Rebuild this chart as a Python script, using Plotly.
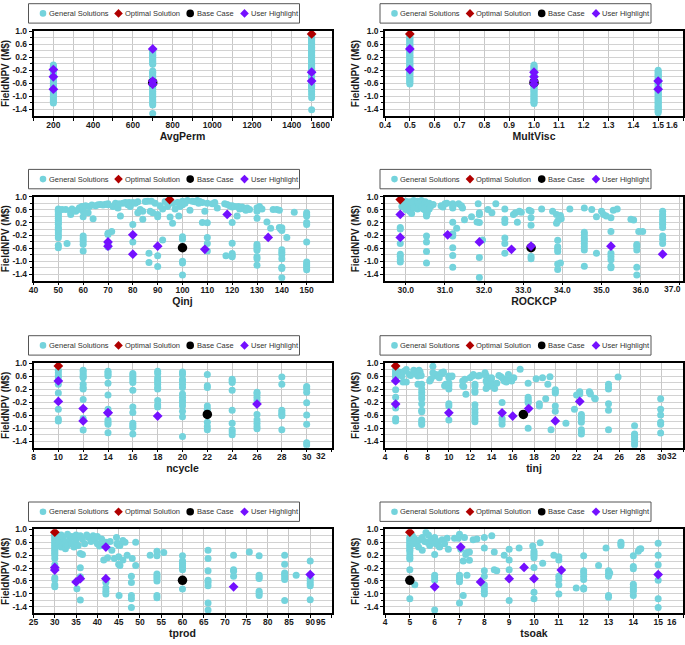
import plotly.graph_objects as go

# ---------------------------------------------------------------- data
HL_Y = [0.45, -0.18, -0.26, -0.40, -0.53, -0.53, -0.63, -0.78]
OPT_Y = 0.91
BASE_Y = -0.58

avgperm_cols = {
    200: [-0.04, -0.08, -0.12, -0.2, -0.24, -0.3, -0.34, -0.38, -0.46, -0.5, -0.55, -0.6, -0.66, -0.7,
          -0.74, -0.82, -0.86, -0.9, -0.95, -1.0, -1.04, -1.1, -1.15, -1.2],
    700: [0.42, 0.38, 0.34, 0.3, 0.26, 0.22, 0.18, 0.14, 0.1, 0.06, 0.02, -0.02, -0.22, -0.26, -0.3, -0.36,
          -0.42, -0.46, -0.6, -0.68, -0.72, -0.78, -0.84, -0.9, -0.94, -1.0, -1.04, -1.1, -1.16, -1.22,
          -1.26, -1.52],
    1500: [0.86, 0.82, 0.78, 0.74, 0.7, 0.66, 0.62, 0.58, 0.54, 0.5, 0.46, 0.42, 0.38, 0.34, 0.3, 0.26,
           0.22, 0.18, 0.14, 0.1, 0.06, 0.02, -0.02, -0.06, -0.1, -0.14, -0.18, -0.22, -0.3, -0.34, -0.38,
           -0.42, -0.46, -0.58, -0.62, -0.66, -0.7, -0.74, -0.8, -0.86, -0.94, -1.04, -1.41],
}
multvisc_cols = {
    0.5: [0.86, 0.82, 0.78, 0.74, 0.7, 0.66, 0.62, 0.58, 0.54, 0.5, 0.42, 0.38, 0.34, 0.3, 0.26, 0.22,
          0.18, 0.14, 0.1, 0.06, 0.02, -0.02, -0.06, -0.1, -0.14, -0.22, -0.26, -0.3, -0.34, -0.38, -0.42,
          -0.46, -0.5, -0.54, -0.58, -0.62],
    1.0: [-0.04, -0.08, -0.12, -0.16, -0.2, -0.3, -0.34, -0.38, -0.46, -0.5, -0.58, -0.66, -0.7, -0.74,
          -0.78, -0.82, -0.86, -0.9, -0.94, -0.98, -1.02, -1.06, -1.1, -1.14, -1.18, -1.22],
    1.5: [-0.2, -0.24, -0.28, -0.32, -0.36, -0.4, -0.44, -0.48, -0.56, -0.6, -0.64, -0.68, -0.72, -0.82,
          -0.86, -0.9, -0.94, -0.98, -1.02, -1.06, -1.1, -1.14, -1.18, -1.22, -1.26, -1.3, -1.34, -1.38,
          -1.42, -1.46, -1.5],
}
ncycle_cols = {
    10: [0.78, 0.7, 0.62, 0.55, 0.35, 0.08, -0.42, -0.72, -0.78],
    12: [0.78, 0.72, 0.65, 0.58, 0.55, 0.35, 0.25, 0.2, -0.12, -0.7, -1.06],
    14: [0.75, 0.7, 0.65, 0.6, 0.38, 0.02, -0.42, -0.75, -0.82, -0.88, -1.14],
    16: [0.68, 0.62, 0.55, 0.48, 0.4, 0.16, -0.35, -0.52, -0.85, -0.92, -0.98, -1.18],
    18: [0.75, 0.68, 0.55, 0.48, 0.42, 0.35, 0.25, 0.2, -0.15, -0.28, -0.35],
    20: [0.72, 0.65, 0.5, 0.45, 0.35, 0.25, 0.05, -0.05, -0.15, -0.22, -0.32, -0.48, -0.65, -1.26],
    22: [0.65, 0.3, 0.25, -0.32, -0.42, -0.82, -0.95, -1.05],
    24: [0.5, 0.45, 0.4, 0.16, -0.45, -0.85, -1.05, -1.12, -1.2],
    26: [0.1, 0.05, -0.05, -0.15, -0.58, -0.75, -0.85, -0.95, -1.02],
    28: [0.57, 0.35, -0.45, -0.52, -0.58, -0.62, -1.05],
    30: [0.28, 0.22, 0.1, -0.22, -0.6, -0.88, -1.45, -1.52],
}
qinj_pts = [
    (50, 0.62), (50, 0.58), (50, 0.55), (50, 0.5), (50, 0.45), (50, 0.4), (50, 0.33), (50, 0.27), (50, 0.2),
    (50, 0.15), (50, 0.05), (50, 0.0), (50, -0.05), (50, -0.12), (50, -0.2), (50, -0.27), (50, -0.5), (50, -0.58),
    (51.5, 0.6), (53, 0.6), (53.5, -0.45), (55, 0.45), (55, 0.52), (55.5, 0.62), (57, 0.55), (58, 0.6),
    (58.5, 0.66), (59.5, 0.7), (60, 0.38), (60, 0.55), (60, 0.64), (60, 0.7), (60, -0.22), (60, -0.3),
    (60, -0.38), (60, -0.47), (60, -0.68), (61, 0.72), (62, 0.5), (62.5, 0.7), (63.5, 0.74), (64, 0.32),
    (65, 0.72), (66, 0.75), (67, 0.76), (68, 0.74), (69, 0.77), (70, 0.78), (70, 0.75), (70, -0.13),
    (70, -0.17), (70, -0.45), (70, -0.5), (70, -0.56), (71.5, -0.08), (72, 0.7), (73, 0.8), (74, 0.65),
    (74.5, 0.78), (75, 0.4), (76, 0.8), (77, 0.82), (78, 0.75), (78.5, 0.82), (79, 0.7), (80, 0.82),
    (80, 0.14), (80, -0.4), (81, 0.8), (82, 0.5), (82, 0.84), (83, 0.6), (84, 0.3), (84, 0.55), (85, 0.85),
    (86, 0.86), (86.5, -0.75), (86.5, -1.04), (87, 0.55), (87.5, 0.86), (88, 0.5), (89, 0.8), (90, 0.45),
    (90, 0.38), (90, -0.83), (90, -1.16), (91, 0.72), (92, -0.34), (92, 0.62), (93, 0.85), (94, 0.7),
    (95, 0.37), (96, 0.8), (96, 0.18), (97, 0.62), (98, 0.82), (98.5, 0.4), (99, 0.7), (100, 0.86),
    (100, 0.75), (100, -0.24), (100, -0.32), (100, -1.0), (100, -1.05), (100, -1.42), (101, 0.8),
    (102, 0.88), (103, 0.58), (104, 0.86), (105, 0.84), (106, 0.88), (106.5, 0.8), (107, 0.85), (108, 0.82),
    (108, 0.2), (109, 0.55), (110, 0.8), (110, 0.19), (110, -0.26), (110, -0.45), (110, -0.68), (112, 0.78),
    (113, 0.82), (114, 0.65), (117, 0.78), (117.5, -0.83), (118, 0.76), (119, 0.72), (120, 0.72),
    (120, 0.68), (120, 0.2), (120, -0.44), (120, -0.76), (120, -0.82), (120, -0.86), (121, 0.7), (122, 0.4),
    (122.5, 0.7), (123, 0.62), (124, 0.68), (125, 0.62), (125.5, 0.58), (126, 0.65), (127, 0.6), (130, 0.65),
    (130, 0.55), (130, 0.33), (130, -0.48), (130, -0.55), (130, -0.6), (130, -0.66), (130, -0.86),
    (130, -0.92), (130, -1.12), (131, 0.7), (132, 0.62), (134, 0.22), (135.5, 0.02), (136.5, 0.6), (138, 0.6),
    (139, 0.58), (139, 0.05), (139.5, 0.0), (140, 0.04), (140, -0.05), (140, -0.64), (140, -0.72),
    (140, -0.8), (140, -0.92), (140, -1.18), (140, -1.22), (140, -1.51), (142, -0.26), (145, 0.52),
    (150, 0.5), (150, 0.44), (150, 0.4), (150, 0.2), (150, 0.14), (150, -0.4), (150, -1.02), (150, -1.08),
    (150, -1.14), (150, -1.2), (150, -1.26),
]
rockcp_pts = [
    (29.95, 0.8), (30.0, 0.86), (30.05, 0.7), (30.1, 0.84), (30.15, 0.78), (30.2, 0.88), (30.25, 0.72),
    (30.3, 0.86), (30.35, 0.8), (30.4, 0.88), (30.45, 0.74), (30.5, 0.84), (30.55, 0.78), (30.6, 0.8),
    (30.65, 0.72), (30.7, 0.76), (30.0, 0.6), (30.1, 0.55), (30.2, 0.65), (30.3, 0.62), (30.4, 0.68),
    (30.5, 0.58), (30.55, 0.5), (30.6, 0.62), (29.9, 0.7), (30.15, 0.48), (30.45, 0.62),
    (29.86, 0.05), (29.86, 0.0), (29.86, -0.45), (29.86, -0.78), (29.86, -0.85), (29.86, -0.95), (29.86, -1.02),
    (30.53, 0.45), (30.53, 0.4), (30.53, -0.22), (30.53, -0.4), (30.53, -0.7), (30.53, -1.05),
    (30.9, 0.72), (30.95, 0.68), (31.0, 0.78), (31.05, 0.8),
    (31.2, 0.78), (31.2, 0.7), (31.2, 0.65), (31.2, 0.21), (31.2, -0.15), (31.2, -0.22), (31.2, -0.58),
    (31.2, -0.82), (31.2, -1.18),
    (31.3, 0.02), (31.35, 0.78), (31.42, 0.72), (31.45, 0.65), (31.5, 0.29), (31.68, 0.38), (31.82, 0.22),
    (31.85, 0.78), (31.88, 0.45), (31.88, 0.5), (31.88, 0.2), (31.88, -0.88), (31.88, -1.5),
    (31.96, -0.34), (32.1, 0.6), (32.2, 0.5), (32.3, 0.78),
    (32.53, 0.62), (32.53, 0.3), (32.53, 0.2), (32.53, -0.28), (32.53, -0.45), (32.53, -0.75),
    (32.75, 0.45), (32.8, 0.5), (32.85, 0.21), (32.9, 0.55), (32.95, 0.52),
    (33.15, 0.58), (33.2, 0.55), (33.2, 0.35), (33.2, 0.12), (33.2, -0.85), (33.2, -0.92),
    (33.47, 0.62), (33.75, 0.55), (33.85, 0.45), (33.88, 0.25), (33.85, 0.18),
    (33.88, -0.35), (33.88, -0.55), (33.88, -0.62), (33.88, -0.7), (33.88, -1.08), (33.88, -1.25),
    (33.95, 0.42), (33.97, 0.32), (33.95, -1.05), (34.19, 0.62),
    (34.56, 0.65), (34.56, -0.1), (34.56, -0.18), (34.56, -0.28), (34.56, -0.35), (34.56, -0.45),
    (34.56, -0.55), (34.56, -0.65), (34.56, -1.15),
    (34.75, 0.6), (34.87, 0.38), (34.87, -0.75), (35.0, 0.55), (35.05, 0.45), (35.12, 0.4),
    (35.24, 0.35), (35.24, -0.08), (35.24, -0.75), (35.24, -0.85), (35.24, -0.95), (35.24, -1.15), (35.24, -1.2),
    (35.3, 0.58), (35.4, 0.62), (35.75, 0.3), (35.82, 0.28),
    (35.9, -0.48), (35.9, -0.55), (35.9, -0.65), (35.9, -1.18), (35.9, -1.42), (35.95, -0.08), (36.05, -0.08),
    (36.56, 0.55), (36.56, 0.45), (36.56, 0.38), (36.56, 0.3), (36.56, 0.22), (36.56, 0.15), (36.56, 0.05),
    (36.56, -0.22), (36.56, -0.32), (36.56, -0.45),
]
tinj_pts = [
    (5, 0.8), (5, 0.75), (5, 0.7), (5, 0.65), (5, 0.6), (5, 0.55), (5, 0.18), (5, -0.05), (5, -0.38), (5, -0.7),
    (5, -0.78), (5.3, 0.72), (5.5, 0.65), (5.6, 0.6), (5.7, 0.42), (5.8, 0.75), (6.0, 0.8), (6.0, 0.42),
    (6.3, 0.65), (6.4, 0.62), (6.7, 0.78), (6.9, 0.72), (7.0, 0.65), (7.1, 0.6), (7.2, 0.78), (7.1, 0.35),
    (7.3, 0.72), (7.4, 0.62),
    (7.45, 0.35), (7.45, 0.2), (7.45, 0.1), (7.45, 0.0), (7.45, -0.1), (7.45, -0.25), (7.45, -0.45),
    (7.45, -0.5), (7.45, -0.75), (7.45, -0.82), (7.45, -0.89),
    (8.2, 0.45), (8.3, 0.5), (8.5, 0.9), (8.5, 0.7), (8.6, 0.6), (8.8, 0.65), (9.0, 0.6), (9.1, 0.55),
    (9.3, 0.7), (9.4, 0.68), (9.5, 0.72), (9.6, 0.3), (9.7, 0.35),
    (10, 0.6), (10, 0.55), (10, 0.38), (10, 0.3), (10, 0.2), (10, -0.25), (10, -0.32), (10, -0.75),
    (10.25, 0.58), (10.3, 0.6), (11.3, 0.45), (11.3, 0.3), (11.4, 0.28), (11.5, 0.5), (11.6, 0.04),
    (12.0, 0.55), (12.2, 0.6), (12.3, 0.65),
    (12.45, 0.35), (12.45, 0.28), (12.45, 0.15), (12.45, 0.1), (12.45, -0.28), (12.45, -0.42), (12.45, -0.52),
    (12.45, -0.62), (12.45, -0.72), (12.45, -0.8),
    (12.75, 0.6), (12.9, 0.62), (13.4, 0.7), (13.5, 0.62), (13.6, 0.55), (13.7, 0.5), (13.5, 0.45),
    (13.6, 0.35), (13.7, 0.28), (13.5, 0.22), (14.0, 0.55), (14.0, 0.5), (14.0, 0.35), (14.2, 0.28),
    (14.3, 0.22), (14.5, 0.38), (14.7, 0.62), (14.9, 0.58), (15.1, 0.52), (15.2, 0.45), (15.4, 0.42),
    (15, -0.21), (15, -0.7), (15, -0.78), (15, -0.88),
    (15.5, 0.5), (15.6, 0.65), (15.9, 0.45), (16.1, 0.55), (16.7, 0.81),
    (17.45, 0.38), (17.45, -0.05), (17.45, -0.12), (17.45, -0.18), (17.45, -0.22), (17.45, -1.0),
    (18.2, 0.52), (18.5, -0.25), (18.5, -0.32), (18.8, 0.55), (19.1, -0.1), (19.3, 0.35), (19.5, 0.58),
    (19.6, -1.05), (20, 0.18), (20, 0.12), (20, 0.08), (20, -0.32), (20, -0.48),
    (21.0, -0.85), (21.8, -0.42), (22.0, 0.02), (22.3, 0.12), (22.3, 0.05),
    (22.45, -0.58), (22.45, -0.65), (22.45, -0.72), (22.45, -0.82), (22.45, -1.05), (22.45, -1.12),
    (22.45, -1.18), (23.2, 0.12), (23.25, 0.08), (23.3, 0.05), (23.7, -0.08), (23.75, -0.1),
    (25, 0.35), (25, 0.25), (25, 0.2), (25, -0.25), (25, -0.45), (25, -1.05), (25.9, 0.57),
    (27.45, -0.93), (27.45, -1.18), (27.45, -1.22), (27.45, -1.28), (27.45, -1.35), (27.45, -1.45),
    (27.45, -1.52), (29.9, -0.1), (29.9, -0.42), (29.9, -0.6), (29.9, -0.82), (29.9, -0.88), (29.9, -1.15),
]
tprod_pts = [
    (30, 0.85), (30, 0.8), (30, 0.75), (30, 0.7), (30, 0.65), (30, 0.6), (30, 0.55), (30, 0.5), (30, 0.45),
    (30, 0.4), (30, 0.35), (30, 0.3), (30, 0.25), (30, 0.2), (30, 0.1), (30, -0.1), (30, -0.5), (30, -0.55),
    (30, -0.72), (30, -0.78),
    (31, 0.7), (31, 0.55), (31.5, 0.82), (31.5, 0.45), (32, 0.75), (32, 0.6), (32.5, 0.6), (32.5, 0.4),
    (33, 0.85), (33, 0.5), (33.5, 0.7), (34, 0.78), (34, 0.55), (34.5, 0.45), (35, 0.82), (35, 0.65),
    (35.5, 0.5), (36, 0.8), (36.5, 0.7), (37, 0.55), (37.5, 0.82), (38, 0.75), (38.5, 0.62), (39, 0.8),
    (39.5, 0.7), (40, 0.55), (40, 0.78), (40.5, 0.48), (41, 0.7), (41, 0.5), (42, 0.6), (43, 0.62),
    (44.5, 0.75), (45, 0.55), (45.3, 0.5), (46, 0.65), (46.5, 0.6),
    (36, 0.25), (36.5, 0.22), (36, -0.19), (36, -0.47), (35.2, -0.84), (36, -1.19),
    (41.5, 0.05), (42.4, 0.12), (42, -0.65), (42, -0.82), (42, -0.92), (42, -1.0), (43.4, 0.35), (44, 0.1),
    (44.6, 0.55), (45, 0.5), (45, 0.15), (45, -0.08), (45.3, -0.12), (45.1, -1.05), (46, 0.05), (47, 0.2),
    (48, -0.45), (48, -0.65), (48, -1.05), (48, -1.15), (48, -1.42), (48.2, 0.1), (49, 0.6), (49, -0.12),
    (52.4, 0.2), (54, 0.32), (54, 0.18), (54, -0.38), (54, -0.45), (54, -0.52), (54, -0.6), (54, -1.05),
    (54, -1.12), (55.6, 0.28),
    (60, 0.18), (60, 0.02), (60, -0.05), (60, -0.12), (60, -0.18), (60, -0.25), (60, -0.85),
    (66, 0.35), (66, 0.1), (66, -0.28), (66, -0.58), (66, -0.65), (66, -0.75), (66, -1.28), (66, -1.5),
    (72, 0.2), (72, -0.25), (72, -0.3), (72, -0.45), (75.7, 0.3),
    (78, 0.18), (78, -0.42), (78, -0.48), (78, -0.52), (78, -0.92), (78, -0.98), (78, -1.05),
    (84, 0.2), (84, -0.08), (84, -0.35), (84, -0.4), (84, -0.48), (84, -0.55), (84, -1.2), (86.7, -0.42),
    (90, 0.02), (90, -0.52), (90, -0.6), (90, -0.68), (90, -0.75), (90, -1.18),
]
tsoak_pts = [
    (5, 0.75), (5, 0.7), (5, 0.65), (5, 0.6), (5, 0.55), (5, 0.5), (5, 0.45), (5, 0.4), (5, 0.35), (5, 0.3),
    (5, 0.2), (5, 0.12), (5, 0.08), (5, -0.25), (5, -1.15),
    (5.1, 0.8), (5.15, 0.55), (5.2, 0.7), (5.3, 0.6), (5.35, 0.45), (5.4, 0.68), (5.5, 0.75), (5.5, 0.35),
    (5.6, 0.62), (5.65, 0.9), (5.7, 0.6), (5.75, 0.82), (5.8, 0.5), (5.85, 0.7), (5.9, 0.65), (6.0, 0.75),
    (6.05, 0.55), (6.1, 0.62), (6.15, 0.5), (6.2, 0.45), (6.3, 0.68), (6.4, 0.55), (6.5, 0.72), (5.2, -0.72),
    (6, 0.22), (6, -0.42), (6, -0.5), (6, -0.58), (6, -1.5),
    (6.55, 0.38), (6.8, 0.72), (6.95, 0.72), (7.0, 0.85), (7.05, 0.38), (7, -0.42), (7, -0.48), (7, -0.55),
    (7, -0.62), (7, -1.28), (7.15, 0.02), (7.15, -1.05), (7.2, 0.75), (7.25, 0.22), (7.3, 0.28), (7.3, -0.42),
    (7.4, 0.3), (7.4, 0.04), (7.55, 0.68), (7.7, 0.7),
    (8, 0.75), (8, 0.42), (8, -0.28), (8, -0.45), (8, -0.72), (8, -0.82), (8, -0.92), (8, -1.0),
    (8.3, 0.8), (8.4, 0.3), (8.4, -0.25), (8.5, -0.28), (8.8, 0.2),
    (9, 0.38), (9, 0.05), (9, -0.25), (9, -1.2), (9.4, 0.42), (9.95, 0.48),
    (10, 0.32), (10, 0.25), (10, 0.2), (10, 0.12), (10, -0.18), (10, -0.95), (10, -1.15),
    (10.25, 0.58), (10.35, -0.05), (10.8, 0.2),
    (11, 0.15), (11, 0.05), (11, -0.45), (11, -0.55), (11, -0.72), (11, -1.0), (11.7, -0.82),
    (12, 0.18), (12, -0.28), (12, -0.35), (12, -0.45), (12, -0.55), (12, -0.82), (12, -0.85),
    (12.6, -0.12), (12.9, 0.42),
    (13, -0.28), (13, -0.38), (13, -0.45), (13, -1.05), (13, -1.1), (13.05, -0.35),
    (13.5, 0.6), (13.5, 0.55), (13.5, 0.5),
    (14, 0.18), (14, -0.15), (14, -0.22), (14, -0.7), (14, -0.78), (14, -0.85), (14, -0.92), (14, -1.05),
    (14.2, 0.32), (14.25, 0.38), (14.3, 0.4),
    (15, 0.57), (15, 0.2), (15, -0.1), (15, -0.58), (15, -1.15), (15, -1.42),
]

# highlighted solutions (same order as HL_Y), optimal and base-case parameter values
avgperm_hl = [700, 200, 1500, 200, 700, 1500, 700, 200]
multvisc_hl = [0.5, 0.5, 1.0, 1.0, 1.0, 1.5, 1.0, 1.5]
qinj_hl = [118, 80, 134.5, 70, 70, 90, 109, 80]
rockcp_hl = [29.86, 31.07, 29.86, 31.88, 33.2, 35.24, 32.7, 36.56]
ncycle_hl = [10, 10, 26, 12, 14, 14, 18, 12]
tinj_hl = [5, 22.3, 5, 17.5, 10, 15, 16, 20]
tprod_hl = [42, 30, 30, 90, 36, 42, 35, 72]
tsoak_hl = [7.05, 9.6, 11.1, 15, 9, 10, 7.85, 6]

opt_x = {"AvgPerm": 1500, "MultVisc": 0.5, "Qinj": 94.8, "ROCKCP": 29.86,
         "ncycle": 10, "tinj": 5, "tprod": 30, "tsoak": 5}
base_x = {"AvgPerm": 700, "MultVisc": 1.0, "Qinj": 100, "ROCKCP": 33.2,
          "ncycle": 22, "tinj": 17, "tprod": 60, "tsoak": 5}

Y_TICKS = [1.0, 0.6, 0.2, -0.2, -0.6, -1.0, -1.4]
Y_TICKTEXT = ["1.0", "0.6", "0.2", "-0.2", "-0.6", "-1.0", "-1.4"]
Y_MINOR = [0.8, 0.4, 0.0, -0.4, -0.8, -1.2]
LEGEND_LABELS = ["General Solutions", "Optimal Solution", "Base Case", "User Highlight"]


def cols_xy(cols):
    xs, ys = [], []
    for k, v in cols.items():
        xs += [k] * len(v)
        ys += v
    return xs, ys


def pts_xy(pts):
    return [p[0] for p in pts], [p[1] for p in pts]


def fmt1(v):
    return f"{v:.1f}"


panels = [
    dict(name="AvgPerm", xy=cols_xy(avgperm_cols), hl=avgperm_hl, rng=[100, 1600],
         tv=list(range(200, 1600, 200)), tt=[str(v) for v in range(200, 1600, 200)],
         mv=list(range(100, 1601, 100)), edge=("1600", 1600), row=0, col=0),
    dict(name="MultVisc", xy=cols_xy(multvisc_cols), hl=multvisc_hl, rng=[0.4, 1.6],
         tv=[0.4 + 0.1 * i for i in range(12)], tt=[fmt1(0.4 + 0.1 * i) for i in range(12)],
         mv=None, edge=("1.6", 1.6), row=0, col=1),
    dict(name="Qinj", xy=pts_xy(qinj_pts), hl=qinj_hl, rng=[40, 160],
         tv=list(range(40, 151, 10)), tt=[str(v) for v in range(40, 151, 10)],
         mv=None, edge=None, row=1, col=0),
    dict(name="ROCKCP", xy=pts_xy(rockcp_pts), hl=rockcp_hl, rng=[29.47, 37.08],
         tv=list(range(30, 37)), tt=[fmt1(v) for v in range(30, 37)],
         mv=None, edge=("37.0", 37.0), row=1, col=1),
    dict(name="ncycle", xy=cols_xy(ncycle_cols), hl=ncycle_hl, rng=[8, 32],
         tv=list(range(8, 31, 2)), tt=[str(v) for v in range(8, 31, 2)],
         mv=None, edge=("32", 32), row=2, col=0),
    dict(name="tinj", xy=pts_xy(tinj_pts), hl=tinj_hl, rng=[4, 32],
         tv=list(range(4, 31, 2)), tt=[str(v) for v in range(4, 31, 2)],
         mv=None, edge=("32", 32), row=2, col=1),
    dict(name="tprod", xy=pts_xy(tprod_pts), hl=tprod_hl, rng=[25, 95],
         tv=list(range(25, 91, 5)), tt=[str(v) for v in range(25, 91, 5)],
         mv=None, edge=("95", 95), row=3, col=0),
    dict(name="tsoak", xy=pts_xy(tsoak_pts), hl=tsoak_hl, rng=[4, 16],
         tv=list(range(4, 16)), tt=[str(v) for v in range(4, 16)],
         mv=None, edge=("16", 16), row=3, col=1),
]

# ---------------------------------------------------------------- style / layout
W, H = 685, 645
FONT = "Liberation Sans, Arial, sans-serif"
C_GEN = "#74D3DC"
C_OPT = "#B00000"
C_BASE = "#000000"
C_HL = "#7410FF"
TXT = "#1a1a1a"
GRID = "#c8c8c8"

COLS = [(33.5, 331.5), (385.0, 683.0)]
ROWS = [(31.0, 116.0), (196.7, 280.7), (363.0, 447.7), (529.3, 613.3)]


def fx(px):
    return px / W


def fy(py):
    return 1 - py / H


fig = go.Figure()
layout = dict(width=W, height=H, margin=dict(l=0, r=0, t=0, b=0),
              paper_bgcolor="white", plot_bgcolor="white", showlegend=False,
              font=dict(family=FONT, color=TXT))
shapes, annotations = [], []

tick_font = dict(family=FONT, size=8.5, color=TXT, weight="bold")
title_font = dict(family=FONT, size=10.5, color=TXT, weight="bold")

for i, p in enumerate(panels, start=1):
    xa, ya = f"x{i}", f"y{i}"
    gx, gy = p["xy"]
    fig.add_trace(go.Scatter(x=gx, y=gy, mode="markers", xaxis=xa, yaxis=ya, name=LEGEND_LABELS[0],
                             marker=dict(size=7, color=C_GEN, line=dict(width=0))))
    fig.add_trace(go.Scatter(x=[base_x[p["name"]]], y=[BASE_Y], mode="markers", xaxis=xa, yaxis=ya,
                             name=LEGEND_LABELS[2], marker=dict(size=9.5, color=C_BASE, line=dict(width=0))))
    fig.add_trace(go.Scatter(x=[opt_x[p["name"]]], y=[OPT_Y], mode="markers", xaxis=xa, yaxis=ya,
                             name=LEGEND_LABELS[1],
                             marker=dict(size=7.5, color=C_OPT, symbol="diamond", line=dict(width=0))))
    fig.add_trace(go.Scatter(x=p["hl"], y=HL_Y, mode="markers", xaxis=xa, yaxis=ya, name=LEGEND_LABELS[3],
                             marker=dict(size=7.5, color=C_HL, symbol="diamond", line=dict(width=0))))

    c0, c1 = COLS[p["col"]]
    r0, r1 = ROWS[p["row"]]
    tv = list(p["tv"])
    tt = list(p["tt"])
    if p["edge"] is not None:
        tv.append(p["edge"][1])
        tt.append("")
    xdict = dict(domain=[fx(c0), fx(c1)], anchor=ya, range=p["rng"], tickmode="array", tickvals=tv,
                 ticktext=tt, showline=True, linecolor="black", linewidth=1.5, mirror=True,
                 ticks="outside", ticklen=3, tickwidth=1, tickcolor="black", tickfont=tick_font,
                 ticklabelstandoff=-3,
                 showgrid=True, gridcolor=GRID, gridwidth=1, zeroline=False, automargin=False,
                 title=dict(text=p["name"], font=title_font, standoff=3))
    if p["mv"] is not None:
        xdict["minor"] = dict(tickmode="array", tickvals=p["mv"], ticks="outside", ticklen=3,
                              tickcolor="black", showgrid=True, gridcolor=GRID, gridwidth=1)
    ydict = dict(domain=[fy(r1), fy(r0)], anchor=xa, range=[-1.6, 1.0], tickmode="array",
                 tickvals=Y_TICKS, ticktext=Y_TICKTEXT, showline=True, linecolor="black", linewidth=1.5,
                 mirror=True, ticks="outside", ticklen=3, tickwidth=1, tickcolor="black", tickfont=tick_font,
                 showgrid=True, gridcolor="#d2d2d2", gridwidth=1, zeroline=False, automargin=False,
                 minor=dict(tickmode="array", tickvals=Y_MINOR, ticks="outside", ticklen=2,
                            tickcolor="black", showgrid=True, gridcolor="#d2d2d2", gridwidth=1),
                 title=dict(text="FieldNPV (M$)", font=dict(family=FONT, size=10, color=TXT, weight="bold"),
                            standoff=2))
    layout[f"xaxis{i}"] = xdict
    layout[f"yaxis{i}"] = ydict

    # shifted last tick label at the right edge
    if p["edge"] is not None:
        annotations.append(dict(text=p["edge"][0], xref="paper", yref="paper", x=fx(c1 - 11),
                                y=fy(r1 + 8.5), xanchor="center", yanchor="middle", showarrow=False,
                                font=tick_font))

    # per-panel legend box
    bl = c0 - 5.0
    cy = r0 - 17.6
    shapes.append(dict(type="rect", xref="paper", yref="paper", x0=fx(bl), x1=fx(bl + 271),
                       y0=fy(cy + 9.7), y1=fy(cy - 9.7), line=dict(color="#555555", width=1),
                       fillcolor="white", layer="above"))
    mk_off = [14.5, 90.0, 161.7, 216.0]
    tx_off = [18.5, 94.2, 166.2, 220.2]
    mk_col = [C_GEN, C_OPT, C_BASE, C_HL]
    mk_kind = ["circle", "diamond", "circle", "diamond"]
    mk_r = [3.3, 4.3, 3.8, 4.3]
    for k in range(4):
        base = dict(xref="paper", yref="paper", xsizemode="pixel", ysizemode="pixel",
                    xanchor=fx(bl + mk_off[k]), yanchor=fy(cy), fillcolor=mk_col[k],
                    line=dict(width=0), layer="above")
        r = mk_r[k]
        if mk_kind[k] == "circle":
            shapes.append(dict(type="circle", x0=-r, x1=r, y0=-r, y1=r, **base))
        else:
            shapes.append(dict(type="path", path=f"M {-r},0 L 0,{r} L {r},0 L 0,{-r} Z", **base))
        annotations.append(dict(text=LEGEND_LABELS[k], xref="paper", yref="paper", x=fx(bl + tx_off[k]),
                                y=fy(cy), xanchor="left", yanchor="middle", showarrow=False,
                                font=dict(family=FONT, size=7.5, color="#333333")))

layout["shapes"] = shapes
layout["annotations"] = annotations
fig.update_layout(**layout)
# the page is photographed at exactly the figure size, so drop the browser's default body margin
fig.write_html("out.html", config={"displayModeBar": False},
               post_script="document.body.style.margin='0px';")
